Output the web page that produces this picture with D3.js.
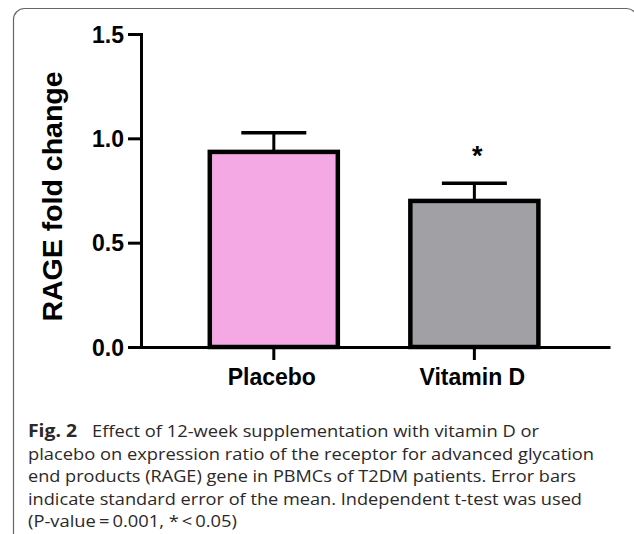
<!DOCTYPE html>
<html>
<head>
<meta charset="utf-8">
<script src="https://cdn.jsdelivr.net/npm/d3@7"></script>
<style>
  html, body { margin: 0; padding: 0; background: #fff; }
  svg { display: block; }
</style>
</head>
<body>
<script>
// ---- data ----
const categories = ["Placebo", "Vitamin D"];
const means = [0.935, 0.70];
const sems = [0.092, 0.085];
const significance = ["", "*"];
const yTicks = [0.0, 0.5, 1.0, 1.5];
const yTitle = "RAGE fold change";
const barColors = ["#f4a9e4", "#a1a0a5"];
const captionBold = "Fig. 2";
const captionLines = [
  "Effect of 12-week supplementation with vitamin D or",
  "placebo on expression ratio of the receptor for advanced glycation",
  "end products (RAGE) gene in PBMCs of T2DM patients. Error bars",
  "indicate standard error of the mean. Independent t-test was used",
  "(P-value\u2009=\u20090.001, *\u2009<\u20090.05)"
];

const W = 634, H = 534;
const svg = d3.select("body").append("svg").attr("width", W).attr("height", H);

// frame
svg.append("rect")
  .attr("x", 13.5).attr("y", 8.5)
  .attr("width", 624).attr("height", 536)
  .attr("rx", 11).attr("ry", 11)
  .attr("fill", "none").attr("stroke", "#666").attr("stroke-width", 1.2);

// scales
const y = d3.scaleLinear().domain([0, 1.5]).range([347, 34]);
const x = d3.scaleBand().domain(categories).range([141, 610])
  .paddingInner(0.3616).paddingOuter(0.35).align(0.49);

const chartFont = "'Liberation Sans', Arial, Helvetica, sans-serif";

// bars
const g = svg.append("g");
g.selectAll("rect.bar").data(categories).enter().append("rect")
  .attr("class", "bar")
  .attr("x", d => x(d))
  .attr("y", (d, i) => y(means[i]))
  .attr("width", x.bandwidth())
  .attr("height", (d, i) => y(0) - y(means[i]))
  .attr("fill", (d, i) => barColors[i])
  .attr("stroke", "#000").attr("stroke-width", 4.5);

// error bars
const capW = 65;
categories.forEach((d, i) => {
  const cx = x(d) + x.bandwidth() / 2;
  g.append("line")
    .attr("x1", cx).attr("x2", cx)
    .attr("y1", y(means[i])).attr("y2", y(means[i] + sems[i]))
    .attr("stroke", "#000").attr("stroke-width", 3);
  g.append("line")
    .attr("x1", cx - capW / 2).attr("x2", cx + capW / 2)
    .attr("y1", y(means[i] + sems[i])).attr("y2", y(means[i] + sems[i]))
    .attr("stroke", "#000").attr("stroke-width", 3.5);
  if (significance[i]) {
    g.append("text")
      .attr("x", cx + 3).attr("y", y(means[i] + sems[i]) - 18)
      .attr("text-anchor", "middle")
      .attr("font-family", chartFont).attr("font-weight", "bold")
      .attr("font-size", 27).attr("fill", "#000")
      .text(significance[i]);
  }
});

// y axis
const yAxis = svg.append("g").attr("transform", `translate(${141},0)`)
  .call(d3.axisLeft(y).tickValues(yTicks).tickFormat(d3.format(".1f"))
    .tickSize(13).tickSizeOuter(0).tickPadding(4));
yAxis.select(".domain").attr("stroke", "#000").attr("stroke-width", 3).attr("stroke-linecap", "square");
yAxis.selectAll(".tick line").attr("stroke", "#000").attr("stroke-width", 3);
yAxis.selectAll(".tick text")
  .attr("font-family", chartFont).attr("font-weight", "bold")
  .attr("font-size", 23).attr("fill", "#000").attr("dy", "0.36em");

// x axis
const xAxis = svg.append("g").attr("transform", `translate(0,${y(0)})`)
  .call(d3.axisBottom(x).tickSize(13).tickSizeOuter(0).tickPadding(9));
xAxis.select(".domain").attr("stroke", "#000").attr("stroke-width", 3);
xAxis.selectAll(".tick line").attr("stroke", "#000").attr("stroke-width", 3);
xAxis.selectAll(".tick text")
  .attr("font-family", chartFont).attr("font-weight", "bold")
  .attr("font-size", 23).attr("fill", "#000").attr("dx", "-2");

// y title
svg.append("text")
  .attr("transform", `translate(62,196.5) rotate(-90)`)
  .attr("text-anchor", "middle")
  .attr("font-family", chartFont).attr("font-weight", "bold")
  .attr("font-size", 28.5).attr("fill", "#000")
  .text(yTitle);

// caption
const capFont = "'Open Sans', 'Noto Sans', sans-serif";
const capColor = "#2b2829";
const capX = 28, capY0 = 437, capLH = 22.5;
const lineEnds = [539, 594, 576, 582, 237];
svg.append("text")
  .attr("x", capX).attr("y", capY0)
  .attr("font-family", capFont).attr("font-weight", "bold")
  .attr("font-size", 17.5).attr("fill", capColor)
  .attr("textLength", 49).attr("lengthAdjust", "spacingAndGlyphs")
  .text(captionBold);
captionLines.forEach((t, i) => {
  const x0 = i === 0 ? 92 : capX;
  svg.append("text")
    .attr("x", x0).attr("y", capY0 + i * capLH)
    .attr("font-family", capFont)
    .attr("font-size", 17).attr("fill", capColor)
    .attr("textLength", lineEnds[i] - x0).attr("lengthAdjust", "spacingAndGlyphs")
    .text(t);
});
</script>
</body>
</html>
